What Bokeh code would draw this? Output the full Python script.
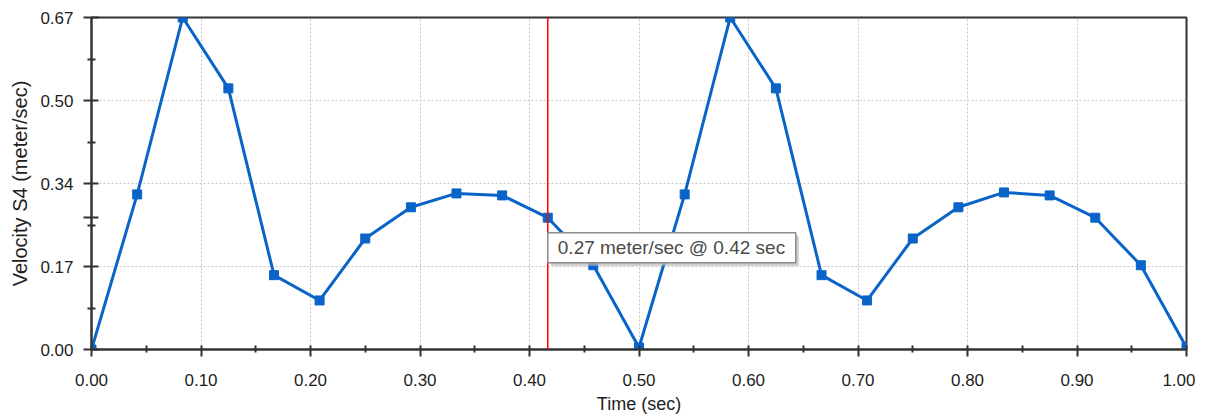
from bokeh.plotting import figure
from bokeh.models import (FixedTicker, CustomJSTickFormatter, PrintfTickFormatter,
                          Span, Label, BoxAnnotation, Range1d)
from bokeh.embed import file_html
from bokeh.resources import INLINE

# ---- data ----
time_sec = [0.0, 0.0417, 0.0833, 0.125, 0.1667, 0.2083, 0.25, 0.2917, 0.3333,
            0.375, 0.4167, 0.4583, 0.5, 0.5417, 0.5833, 0.625, 0.6667, 0.7083,
            0.75, 0.7917, 0.8333, 0.875, 0.9167, 0.9583, 1.0]
velocity = [0.000, 0.313, 0.670, 0.527, 0.150, 0.099, 0.224, 0.287, 0.315,
            0.311, 0.266, 0.170, 0.004, 0.313, 0.670, 0.527, 0.150, 0.099,
            0.224, 0.287, 0.317, 0.311, 0.266, 0.170, 0.004]
x_ticks = [0.0, 0.1, 0.2, 0.3, 0.4, 0.5, 0.6, 0.7, 0.8, 0.9, 1.0]
x_minor = [0.05, 0.15, 0.25, 0.35, 0.45, 0.55, 0.65, 0.75, 0.85, 0.95]
y_ticks = [0.0, 0.1675, 0.335, 0.5025, 0.67]
y_minor = [0.08375, 0.25125, 0.41875, 0.58625]
cursor_index = 10
cursor_text = "0.27 meter/sec @ 0.42 sec"

cur_x = time_sec[cursor_index]
cur_y = velocity[cursor_index]

FONT = "Liberation Sans"
TXT = "#1e1e1e"

p = figure(frame_width=1095, frame_height=332,
           min_border_left=91, min_border_right=9,
           min_border_top=17, min_border_bottom=66,
           x_range=Range1d(0, 1), y_range=Range1d(0, 0.67),
           output_backend="svg", toolbar_location=None)
p.background_fill_color = "white"
p.border_fill_color = "white"
p.outline_line_color = "#333333"
p.outline_line_width = 2

# grid
p.xgrid.ticker = FixedTicker(ticks=x_ticks[1:-1])
p.ygrid.ticker = FixedTicker(ticks=y_ticks[1:-1])
for g in (p.xgrid, p.ygrid):
    g.grid_line_color = "#c4c4c4"
    g.grid_line_dash = "2 2"
    g.grid_line_width = 1

# x axis
xa = p.xaxis[0]
xa.ticker = FixedTicker(ticks=x_ticks, minor_ticks=x_minor)
xa.formatter = PrintfTickFormatter(format="%.2f")
xa.axis_label = "Time (sec)"
xa.major_tick_in = 4
xa.major_tick_out = 7
xa.minor_tick_in = 4
xa.minor_tick_out = 3
xa.major_label_standoff = 17
xa.axis_label_standoff = 5

# y axis (cursor value gets an unlabeled tick)
ya = p.yaxis[0]
ya.ticker = FixedTicker(ticks=y_ticks + [cur_y], minor_ticks=y_minor)
ya.formatter = CustomJSTickFormatter(
    args=dict(cur=cur_y),
    code="return Math.abs(tick - cur) < 1e-9 ? '' : tick.toFixed(2);")
ya.axis_label = "Velocity S4 (meter/sec)"
ya.major_tick_in = 7
ya.major_tick_out = 8
ya.minor_tick_in = 4
ya.minor_tick_out = 4
ya.major_label_standoff = 10
ya.axis_label_standoff = 6

for a in (xa, ya):
    a.axis_line_color = "#333333"
    a.axis_line_width = 2
    a.major_tick_line_color = "#333333"
    a.major_tick_line_width = 2
    a.minor_tick_line_color = "#333333"
    a.minor_tick_line_width = 2
    a.major_label_text_font = FONT
    a.major_label_text_font_size = "17px"
    a.major_label_text_color = TXT
    a.axis_label_text_font = FONT
    a.axis_label_text_font_style = "normal"
    a.axis_label_text_color = TXT
xa.axis_label_text_font_size = "18px"
ya.axis_label_text_font_size = "20px"

# series
BLUE = "#0a64c8"
p.line(time_sec, velocity, line_color=BLUE, line_width=3)
p.scatter(time_sec, velocity, marker="square", size=9,
          fill_color=BLUE, line_color=BLUE)

# cursor
p.add_layout(Span(location=cur_x, dimension="height",
                  line_color="#ff0000", line_width=1.5))

# tooltip (shadow + box + text); geometry in data units of this frame
px_x = 1.0 / 1095
px_y = 0.67 / 332
box_w = 248 * px_x
box_h = 30 * px_y
box_top = cur_y - 15 * px_y
p.add_layout(BoxAnnotation(left=cur_x + 3 * px_x, right=cur_x + box_w + 3 * px_x,
                           top=box_top - 3 * px_y, bottom=box_top - box_h - 3 * px_y,
                           fill_color="#b8b8b8", fill_alpha=0.7,
                           line_color=None, level="overlay"))
p.add_layout(BoxAnnotation(left=cur_x, right=cur_x + box_w,
                           top=box_top, bottom=box_top - box_h,
                           fill_color="white", fill_alpha=1.0,
                           line_color="#8c8c8c", line_width=1.5, line_alpha=1.0,
                           level="overlay"))
p.add_layout(Label(x=cur_x, y=box_top - box_h / 2, x_offset=10,
                   text=cursor_text, text_font=FONT, text_font_size="19px",
                   text_color="#4a4a4a", text_align="left",
                   text_baseline="middle", level="overlay"))

open("out.html", "w").write(file_html(p, INLINE))
